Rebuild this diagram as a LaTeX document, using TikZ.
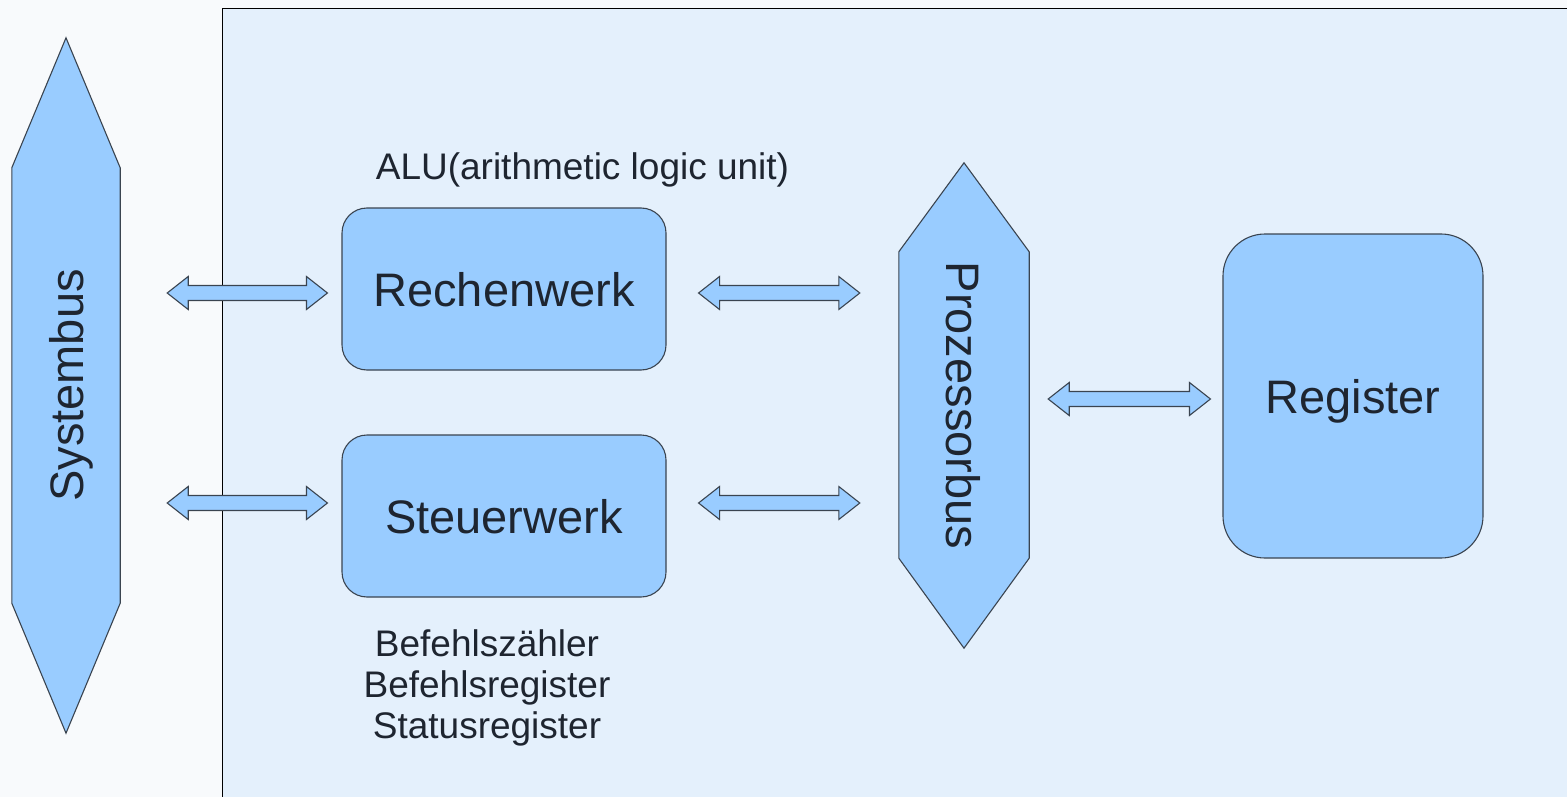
\documentclass[tikz,border=0pt]{standalone}
\usepackage{fontspec}
\setmainfont{Liberation Sans}
\usetikzlibrary{calc}
\definecolor{boxfill}{HTML}{99CCFF}
\definecolor{boxline}{HTML}{3A4450}
\definecolor{txt}{HTML}{1E2530}
\definecolor{cpufill}{HTML}{E4F0FC}
\definecolor{pagebg}{HTML}{F8FAFC}
\newcommand{\blockarrow}[2]{%
  \path[arrowshape] let \p1=#1, \p2=#2 in
    (\x1,\y1) -- (\x1+21pt,\y1+16.5pt) -- (\x1+21pt,\y1+7.5pt) -- (\x2-21pt,\y1+7.5pt)
    -- (\x2-21pt,\y1+16.5pt) -- (\x2,\y1) -- (\x2-21pt,\y1-16.5pt) -- (\x2-21pt,\y1-7.5pt)
    -- (\x1+21pt,\y1-7.5pt) -- (\x1+21pt,\y1-16.5pt) -- cycle;}
\begin{document}
\begin{tikzpicture}[x=1pt,y=-1pt,
  big/.style={font=\fontsize{47}{56}\selectfont, text=txt},
  small/.style={font=\fontsize{37}{41}\selectfont, text=txt},
  blockbox/.style={draw=boxline, fill=boxfill, line width=1.1pt, inner sep=0pt, text depth=0pt, big},
  busshape/.style={draw=boxline, fill=boxfill, line width=1.1pt, line join=miter},
  arrowshape/.style={draw=boxline, fill=boxfill, line width=1.1pt, line join=miter},
  plain/.style={inner sep=0pt, big}]
\useasboundingbox (0,0) rectangle (1567,797);
\clip (0,0) rectangle (1567,797);
\fill[pagebg] (0,0) rectangle (1567,797);
% CPU area
\draw[black, line width=1.4pt, fill=cpufill] (222.5,8.5) rectangle (1580,810);

% Systembus
\node[plain, minimum width=108, minimum height=695] (sys) at (66,385.5) {};
\path[busshape] (sys.north) -- ($(sys.north east)+(0,130)$) -- ($(sys.south east)+(0,-130)$)
  -- (sys.south) -- ($(sys.south west)+(0,-130)$) -- ($(sys.north west)+(0,130)$) -- cycle;
\node[plain] (systext) at (sys.center) {\rotatebox{90}{\raisebox{0pt}[\height][0pt]{Systembus}}};

% Prozessorbus
\node[plain, minimum width=130, minimum height=485] (pb) at (964,405.5) {};
\path[busshape] (pb.north) -- ($(pb.north east)+(0,89)$) -- ($(pb.south east)+(0,-90)$)
  -- (pb.south) -- ($(pb.south west)+(0,-90)$) -- ($(pb.north west)+(0,89)$) -- cycle;
\node[plain] (pbtext) at (pb.center) {\rotatebox{-90}{\raisebox{0pt}[\height][0pt]{Prozessorbus}}};

% Blocks
\node[blockbox, rounded corners=25, minimum width=324, minimum height=162] (rw) at (504,289) {Rechenwerk};
\node[blockbox, rounded corners=25, minimum width=324, minimum height=162] (sw) at (504,516) {Steuerwerk};
\node[blockbox, rounded corners=42, minimum width=260, minimum height=324] (reg) at (1353,396) {Register};

% Labels
\node[small, inner sep=0pt, anchor=base] (alu) at (582.5,180) {ALU(arithmetic logic unit)};
\node[small, inner sep=0pt, anchor=north, align=center] (regs) at (487,629)
  {Befehlszähler\\Befehlsregister\\Statusregister};

% Arrow end points
\coordinate (a1s) at ($(sys.east |- rw.west)+(47,4)$);
\coordinate (a1e) at ($(rw.west)+(-14,4)$);
\coordinate (a2s) at ($(sys.east |- sw.west)+(47,-13)$);
\coordinate (a2e) at ($(sw.west)+(-14,-13)$);
\coordinate (a3s) at ($(rw.east)+(32,4)$);
\coordinate (a3e) at ($(pb.west |- rw.east)+(-39,4)$);
\coordinate (a4s) at ($(sw.east)+(32,-13)$);
\coordinate (a4e) at ($(pb.west |- sw.east)+(-39,-13)$);
\coordinate (a5s) at ($(pb.east |- reg.west)+(19,3)$);
\coordinate (a5e) at ($(reg.west)+(-12,3)$);
\blockarrow{(a1s)}{(a1e)}
\blockarrow{(a2s)}{(a2e)}
\blockarrow{(a3s)}{(a3e)}
\blockarrow{(a4s)}{(a4e)}
\blockarrow{(a5s)}{(a5e)}
\end{tikzpicture}
\end{document}
